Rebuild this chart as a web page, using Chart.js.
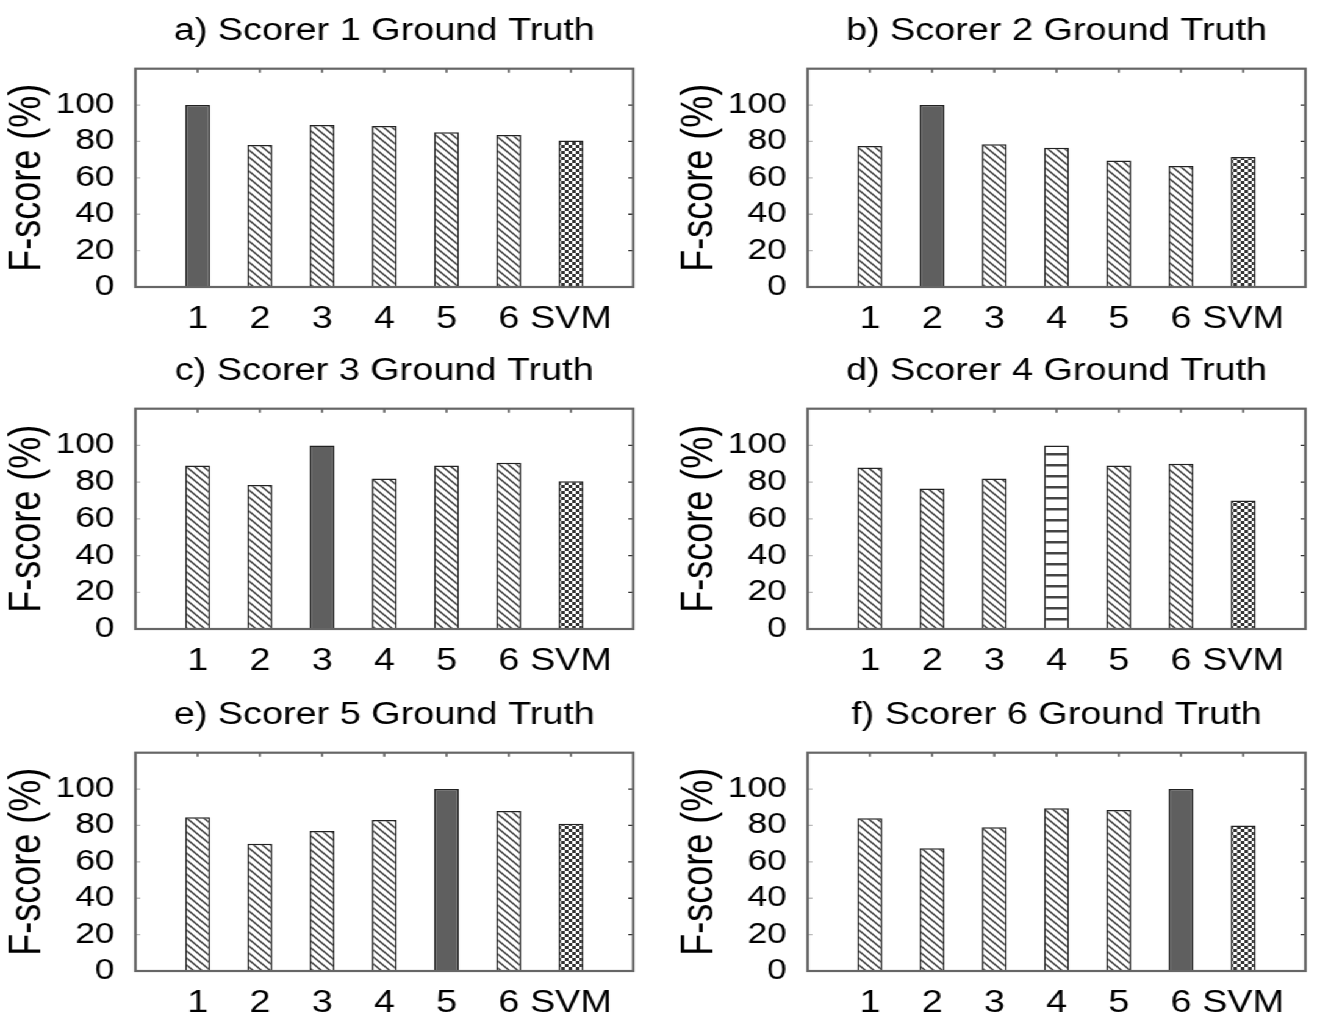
<!DOCTYPE html>
<html>
<head>
<meta charset="utf-8">
<script src="https://cdn.jsdelivr.net/npm/chart.js@4"></script>
<style>
  html, body { margin: 0; padding: 0; background: #fff; overflow: hidden; }
  body { width: 1322px; height: 1023px; position: relative; }
  /* the original figure is a little wider than tall, so stretch the page sideways */
  #page { position: absolute; left: 0; top: 0; width: 1084px; height: 1023px;
          transform: scaleX(1.22); transform-origin: 0 0; }
  #page canvas { position: absolute; }
</style>
</head>
<body>
<div id="page">
  <canvas id="c1" width="524" height="337" style="left:1px;top:10px"></canvas>
  <canvas id="c2" width="524" height="337" style="left:551.5px;top:10px"></canvas>
  <canvas id="c3" width="524" height="339" style="left:1px;top:350px"></canvas>
  <canvas id="c4" width="524" height="339" style="left:551.5px;top:350px"></canvas>
  <canvas id="c5" width="524" height="337" style="left:1px;top:694px"></canvas>
  <canvas id="c6" width="524" height="337" style="left:551.5px;top:694px"></canvas>
</div>
<script>
const categories = ["1", "2", "3", "4", "5", "6", "SVM"];
const yTicks = [0, 20, 40, 60, 80, 100];

const scorer1 = [100, 78, 89, 88.5, 85, 83.5, 80.5];
const scorer2 = [77.5, 100, 78.5, 76.5, 69.5, 66.5, 71.5];
const scorer3 = [89, 78.5, 100, 82, 89, 90.5, 80.5];
const scorer4 = [88, 76.5, 82, 100, 89, 90, 70];
const scorer5 = [84.5, 70, 77, 83, 100, 88, 81];
const scorer6 = [84, 67.5, 79, 89.5, 88.5, 100, 80];

const titles = [
  "a) Scorer 1 Ground Truth",
  "b) Scorer 2 Ground Truth",
  "c) Scorer 3 Ground Truth",
  "d) Scorer 4 Ground Truth",
  "e) Scorer 5 Ground Truth",
  "f) Scorer 6 Ground Truth",
];

const FONT = "'Liberation Sans', Arial, Helvetica, sans-serif";

// ---------- fill patterns ----------
function makePattern(w, h, draw) {
  const c = document.createElement("canvas");
  c.width = w;
  c.height = h;
  const g = c.getContext("2d");
  g.fillStyle = "#fff";
  g.fillRect(0, 0, w, h);
  draw(g, w, h);
  return document.createElement("canvas").getContext("2d").createPattern(c, "repeat");
}

const diagonal = makePattern(7, 7, (g, s) => {
  g.strokeStyle = "#333";
  g.lineWidth = 1.4;
  g.beginPath();
  g.moveTo(0, 0); g.lineTo(s, s);
  g.moveTo(-2, s - 2); g.lineTo(2, s + 2);
  g.moveTo(s - 2, -2); g.lineTo(s + 2, 2);
  g.stroke();
});

const checker = makePattern(6, 6, (g) => {
  g.fillStyle = "#333";
  g.fillRect(0, 0, 3, 3);
  g.fillRect(3, 3, 3, 3);
});

const hstripe = makePattern(8, 11, (g, w) => {
  g.fillStyle = "#444";
  g.fillRect(0, 4, w, 2.5);
});

const solid = "#5f5f5f";

// ---------- box and inward ticks ----------
const boxPlugin = {
  id: "box",
  afterDraw(chart) {
    const { ctx, chartArea: a, scales } = chart;
    ctx.save();
    ctx.strokeStyle = "#333";
    ctx.lineWidth = 1.3;
    ctx.beginPath();
    categories.forEach((c, i) => {
      const x = scales.x.getPixelForValue(i + 1);
      ctx.moveTo(x, a.top);
      ctx.lineTo(x, a.top + 4);
    });
    yTicks.forEach((v) => {
      const y = scales.y.getPixelForValue(v);
      ctx.moveTo(a.right, y);
      ctx.lineTo(a.right - 4, y);
    });
    ctx.stroke();
    ctx.strokeStyle = "#bbb";
    ctx.beginPath();
    yTicks.forEach((v) => {
      const y = scales.y.getPixelForValue(v);
      ctx.moveTo(a.left, y);
      ctx.lineTo(a.left + 4, y);
    });
    ctx.stroke();
    ctx.strokeStyle = "#666";
    ctx.lineWidth = 2.2;
    ctx.strokeRect(a.left, a.top, a.right - a.left, a.bottom - a.top);
    ctx.restore();
  },
};

function drawPanel(id, title, values, own) {
  const fills = values.map((v, i) => {
    if (categories[i] === "SVM") return checker;
    if (i === own) return own === 3 ? hstripe : solid;
    return diagonal;
  });

  new Chart(document.getElementById(id), {
    type: "bar",
    data: {
      labels: ["", ...categories, ""],
      datasets: [
        {
          data: [null, ...values, null],
          backgroundColor: [null, ...fills, null],
          borderColor: "#222",
          borderWidth: 1.5,
          categoryPercentage: 1,
          barPercentage: 0.4,
        },
      ],
    },
    options: {
      responsive: false,
      animation: false,
      events: [],
      layout: { padding: 0 },
      plugins: {
        legend: { display: false },
        tooltip: { enabled: false },
        title: {
          display: true,
          fullSize: false,
          text: title,
          color: "#000",
          font: { family: FONT, size: 31, weight: "normal", lineHeight: 1.2 },
          padding: { top: 3, bottom: 18.5 },
        },
      },
      scales: {
        x: {
          offset: false,
          grid: { display: false },
          border: { display: false },
          ticks: {
            color: "#000",
            autoSkip: false,
            maxRotation: 0,
            padding: 6,
            font: { family: FONT, size: 31 },
          },
          afterFit: (s) => { s.height = 60; },
        },
        y: {
          min: 0,
          max: 120,
          grid: { display: false },
          border: { display: false },
          ticks: {
            stepSize: 20,
            autoSkip: false,
            color: "#000",
            padding: 9,
            font: { family: FONT, size: 29, lineHeight: 1 },
            callback: (v) => (yTicks.includes(v) ? v : ""),
          },
          title: {
            display: true,
            text: "F-score (%)",
            color: "#000",
            font: { family: FONT, size: 36, lineHeight: 1.2 },
            padding: { top: 0, bottom: 0 },
          },
          afterFit: (s) => { s.width = 110; },
        },
      },
    },
    plugins: [boxPlugin],
  });
}

drawPanel("c1", titles[0], scorer1, 0);
drawPanel("c2", titles[1], scorer2, 1);
drawPanel("c3", titles[2], scorer3, 2);
drawPanel("c4", titles[3], scorer4, 3);
drawPanel("c5", titles[4], scorer5, 4);
drawPanel("c6", titles[5], scorer6, 5);
</script>
</body>
</html>
